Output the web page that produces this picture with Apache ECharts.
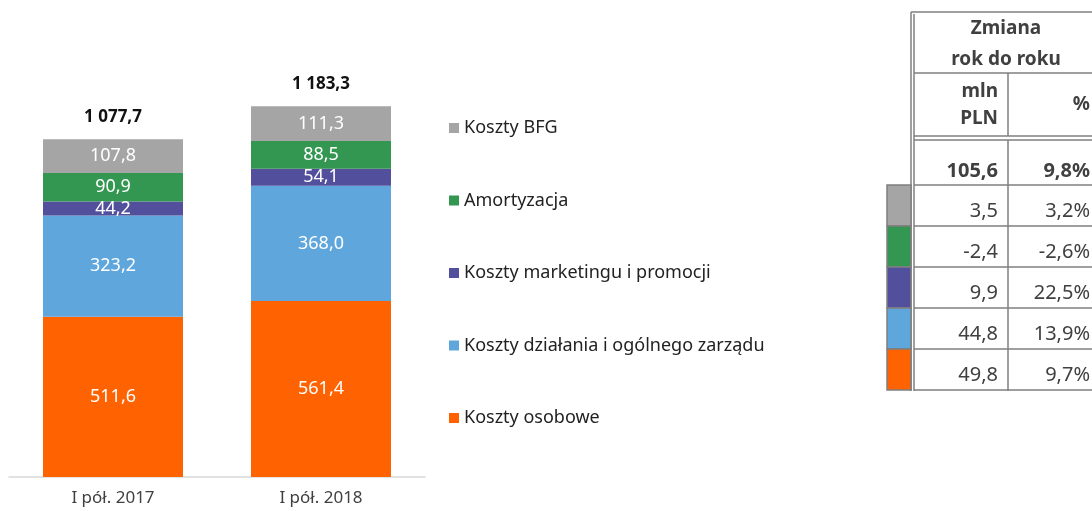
<!DOCTYPE html>
<html>
<head>
<meta charset="utf-8">
<script src="https://cdn.jsdelivr.net/npm/echarts@6/dist/echarts.min.js"></script>
<style>
  html, body { margin: 0; padding: 0; background: #fff; }
  #chart { width: 1092px; height: 511px; }
</style>
</head>
<body>
<div id="chart"></div>
<script>
// dane wykresu (mln PLN)
const categories = ['I pół. 2017', 'I pół. 2018'];
const osobowe = [511.6, 561.4];
const dzialania = [323.2, 368.0];
const marketing = [44.2, 54.1];
const amortyzacja = [90.9, 88.5];
const bfg = [107.8, 111.3];
const totals = [1077.7, 1183.3];

// tabela zmian r/r (kolejność od góry: BFG, amortyzacja, marketing, działania, osobowe)
const totalChange = 105.6;
const totalChangePct = 9.8;
const changeMln = [3.5, -2.4, 9.9, 44.8, 49.8];
const changePct = [3.2, -2.6, 22.5, 13.9, 9.7];

const colors = {
    osobowe: '#ff6200',
    dzialania: '#5ea6dc',
    marketing: '#524f9c',
    amortyzacja: '#339651',
    bfg: '#a5a5a5'
};
const font = 'Noto Sans';
const textColor = '#404040';

function fmt(v) {
    let s = Math.abs(v).toFixed(1).split('.');
    let int = s[0].replace(/\B(?=(\d{3})+(?!\d))/g, ' ');
    return (v < 0 ? '-' : '') + int + ',' + s[1];
}

function barSeries(name, data, color) {
    return {
        name: name,
        type: 'bar',
        stack: 'koszty',
        barWidth: 140,
        data: data,
        itemStyle: { color: color },
        label: {
            show: true,
            position: 'inside',
            color: '#fff',
            fontFamily: font,
            fontSize: 18,
            formatter: (p) => fmt(p.value)
        }
    };
}

// tabela po prawej
const line = '#7f7f7f';
const rowColors = [colors.bfg, colors.amortyzacja, colors.marketing, colors.dzialania, colors.osobowe];
const rowTops = [185, 226, 267, 308, 349];
let graphic = [];
function hline(x1, x2, y) {
    graphic.push({ type: 'line', shape: { x1: x1, y1: y, x2: x2, y2: y }, style: { stroke: line, lineWidth: 1.5 } });
}
function vline(x, y1, y2) {
    graphic.push({ type: 'line', shape: { x1: x, y1: y1, x2: x, y2: y2 }, style: { stroke: line, lineWidth: 1.5 } });
}
function txt(t, x, y, align, bold, size) {
    graphic.push({
        type: 'text', x: x, y: y,
        style: {
            text: t, fill: textColor, font: (bold ? 'bold ' : '') + (size || 20) + 'px "' + font + '"',
            align: align, verticalAlign: 'middle'
        }
    });
}
hline(911, 1092, 12);
vline(911, 12, 391);
vline(914, 14, 391);
hline(914, 1092, 73);
vline(1008, 73, 136);
hline(914, 1092, 136);
hline(914, 1092, 140);
vline(1008, 140, 391);
hline(914, 1092, 185);
rowTops.forEach((top, i) => {
    graphic.push({
        type: 'rect', shape: { x: 887, y: top, width: 24, height: 41 },
        style: { fill: rowColors[i], stroke: line, lineWidth: 1.5 }
    });
    hline(914, 1092, top + 41);
    txt(fmt(changeMln[i]), 998, top + 26, 'right', false);
    txt(fmt(changePct[i]) + '%', 1090, top + 26, 'right', false);
});
txt('Zmiana', 1006, 29, 'center', true, 19);
txt('rok do roku', 1006, 60, 'center', true, 19);
txt('mln', 998, 92, 'right', true, 19);
txt('PLN', 998, 119, 'right', true, 19);
txt('%', 1090, 105, 'right', true, 19);
txt(fmt(totalChange), 998, 171, 'right', true);
txt(fmt(totalChangePct) + '%', 1090, 171, 'right', true);

const chart = echarts.init(document.getElementById('chart'));
chart.setOption({
    animation: false,
    textStyle: { fontFamily: font },
    grid: { left: 9, width: 416, top: 7, bottom: 34 },
    legend: {
        orient: 'vertical',
        left: 449,
        top: 119,
        padding: 0,
        itemGap: 54.5,
        itemWidth: 10,
        itemHeight: 10,
        icon: 'rect',
        data: ['Koszty BFG', 'Amortyzacja', 'Koszty marketingu i promocji', 'Koszty działania i ogólnego zarządu', 'Koszty osobowe'],
        textStyle: { color: '#222', fontSize: 18, lineHeight: 18, fontFamily: font }
    },
    xAxis: {
        type: 'category',
        data: categories,
        axisTick: { show: false },
        axisLine: { lineStyle: { color: '#d9d9d9', width: 1.5 } },
        axisLabel: { color: textColor, fontSize: 17, margin: 13 }
    },
    yAxis: {
        type: 'value',
        min: 0,
        max: 1500,
        show: false
    },
    series: [
        barSeries('Koszty osobowe', osobowe, colors.osobowe),
        barSeries('Koszty działania i ogólnego zarządu', dzialania, colors.dzialania),
        barSeries('Koszty marketingu i promocji', marketing, colors.marketing),
        barSeries('Amortyzacja', amortyzacja, colors.amortyzacja),
        barSeries('Koszty BFG', bfg, colors.bfg),
        {
            name: 'Suma',
            type: 'bar',
            stack: 'koszty',
            barWidth: 140,
            data: totals.map(() => 0),
            itemStyle: { color: 'transparent' },
            label: {
                show: true,
                position: 'top',
                distance: 14,
                color: '#111',
                fontWeight: 'bold',
                fontSize: 17,
                fontFamily: font,
                formatter: (p) => fmt(totals[p.dataIndex])
            }
        }
    ],
    graphic: graphic
});
</script>
</body>
</html>
